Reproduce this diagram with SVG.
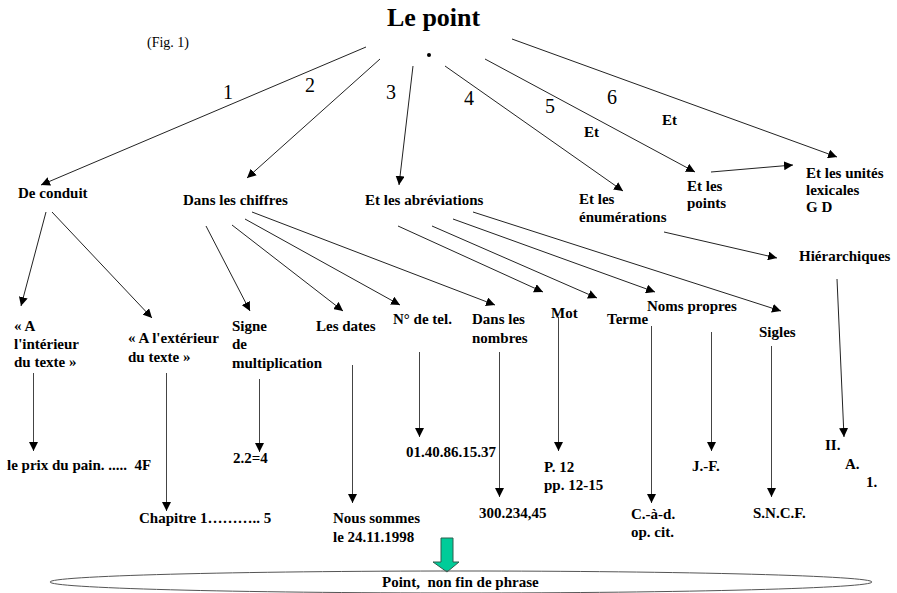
<svg xmlns="http://www.w3.org/2000/svg" width="897" height="593" viewBox="0 0 897 593">
  <style>
    text { font-family: "Liberation Serif", Tinos, "DejaVu Serif", "Noto Serif", serif; fill: #000; }
    .title { font-size: 26px; font-weight: bold; }
    .fig { font-size: 14px; }
    .num { font-size: 20px; }
    .lbl { font-size: 15px; font-weight: bold; }
    .edge { stroke: #222; stroke-width: 1; fill: none; marker-end: url(#tip); }
    .vert { stroke: #444; }
  </style>
  <defs>
    <marker id="tip" viewBox="0 0 10 10" refX="10" refY="5" markerWidth="9" markerHeight="9" markerUnits="userSpaceOnUse" orient="auto">
      <path d="M0,0 L10,5 L0,10 z" fill="#000"/>
    </marker>
  </defs>

  <!-- heading -->
  <text class="title" x="387" y="26">Le point</text>
  <text class="fig" x="147" y="47">(Fig. 1)</text>
  <circle cx="429" cy="55" r="2" fill="#000"/>

  <!-- connectors -->
  <g id="connectors">
    <!-- first level -->
    <line class="edge" x1="366" y1="47" x2="41" y2="185"/>
    <line class="edge" x1="380" y1="59" x2="247" y2="178"/>
    <line class="edge" x1="413" y1="66" x2="399" y2="185"/>
    <line class="edge" x1="445" y1="66" x2="623" y2="191"/>
    <line class="edge" x1="485" y1="59" x2="695" y2="172"/>
    <line class="edge" x1="512" y1="39" x2="837" y2="157"/>
    <line class="edge" x1="711" y1="172" x2="793" y2="165"/>
    <!-- De conduit -->
    <line class="edge" x1="46" y1="212" x2="21" y2="306"/>
    <line class="edge" x1="52" y1="212" x2="152" y2="318"/>
    <!-- Dans les chiffres -->
    <line class="edge" x1="206" y1="226" x2="250" y2="311"/>
    <line class="edge" x1="232" y1="225" x2="343" y2="311"/>
    <line class="edge" x1="245" y1="219" x2="400" y2="305"/>
    <line class="edge" x1="252" y1="212" x2="495" y2="305"/>
    <!-- Et les abréviations -->
    <line class="edge" x1="398" y1="226" x2="543" y2="292"/>
    <line class="edge" x1="432" y1="226" x2="597" y2="298"/>
    <line class="edge" x1="453" y1="219" x2="655" y2="292"/>
    <line class="edge" x1="473" y1="212" x2="781" y2="311"/>
    <!-- Et les énumérations -->
    <line class="edge" x1="664" y1="232" x2="777" y2="258"/>
    <!-- examples -->
    <line class="edge vert" x1="33.5" y1="373" x2="33.5" y2="451"/>
    <line class="edge vert" x1="166.5" y1="373" x2="166.5" y2="511"/>
    <line class="edge vert" x1="259.5" y1="379" x2="259.5" y2="452"/>
    <line class="edge vert" x1="352.5" y1="365" x2="352.5" y2="503"/>
    <line class="edge vert" x1="419.5" y1="352" x2="419.5" y2="437"/>
    <line class="edge vert" x1="499.5" y1="352" x2="499.5" y2="497"/>
    <line class="edge vert" x1="558.5" y1="317" x2="558.5" y2="451"/>
    <line class="edge vert" x1="651.5" y1="326" x2="651.5" y2="503"/>
    <line class="edge vert" x1="711.5" y1="332" x2="711.5" y2="451"/>
    <line class="edge vert" x1="771.5" y1="346" x2="771.5" y2="497"/>
    <line class="edge" x1="837" y1="279" x2="844" y2="437"/>
  </g>

  <!-- branch numbers -->
  <g id="numbers">
    <text class="num" x="223" y="99">1</text>
    <text class="num" x="305" y="92">2</text>
    <text class="num" x="386" y="99">3</text>
    <text class="num" x="464" y="105">4</text>
    <text class="num" x="545" y="113">5</text>
    <text class="num" x="607" y="104">6</text>
    <text class="lbl" x="584" y="137">Et</text>
    <text class="lbl" x="662" y="125">Et</text>
  </g>

  <!-- first level nodes -->
  <g id="n-conduit"><text class="lbl" x="18" y="198">De conduit</text></g>
  <g id="n-chiffres"><text class="lbl" x="183" y="205">Dans les chiffres</text></g>
  <g id="n-abreviations"><text class="lbl" x="365" y="205">Et les abréviations</text></g>
  <g id="n-enumerations">
    <text class="lbl" x="579" y="204">Et les</text>
    <text class="lbl" x="579" y="222">énumérations</text>
  </g>
  <g id="n-points">
    <text class="lbl" x="687" y="191">Et les</text>
    <text class="lbl" x="687" y="208">points</text>
  </g>
  <g id="n-unites">
    <text class="lbl" x="806" y="178">Et les unités</text>
    <text class="lbl" x="806" y="195">lexicales</text>
    <text class="lbl" x="806" y="212">G D</text>
  </g>

  <!-- second level nodes -->
  <g id="n-interieur">
    <text class="lbl" x="14" y="331">« A</text>
    <text class="lbl" x="14" y="349">l'intérieur</text>
    <text class="lbl" x="14" y="367">du texte »</text>
  </g>
  <g id="n-exterieur">
    <text class="lbl" x="128" y="343">« A l'extérieur</text>
    <text class="lbl" x="128" y="362">du texte »</text>
  </g>
  <g id="n-signe">
    <text class="lbl" x="232" y="331">Signe</text>
    <text class="lbl" x="232" y="349">de</text>
    <text class="lbl" x="232" y="368">multiplication</text>
  </g>
  <g id="n-dates"><text class="lbl" x="316" y="331">Les dates</text></g>
  <g id="n-tel"><text class="lbl" x="393" y="324">N° de tel.</text></g>
  <g id="n-nombres">
    <text class="lbl" x="472" y="324">Dans les</text>
    <text class="lbl" x="472" y="343">nombres</text>
  </g>
  <g id="n-mot"><text class="lbl" x="551" y="318">Mot</text></g>
  <g id="n-terme"><text class="lbl" x="607" y="324">Terme</text></g>
  <g id="n-noms"><text class="lbl" x="647" y="311">Noms propres</text></g>
  <g id="n-sigles"><text class="lbl" x="759" y="337">Sigles</text></g>
  <g id="n-hierarchiques"><text class="lbl" x="799" y="261">Hiérarchiques</text></g>

  <!-- examples -->
  <g id="ex-pain"><text class="lbl" x="7" y="470" xml:space="preserve">le prix du pain. .....  4F</text></g>
  <g id="ex-chapitre"><text class="lbl" x="139" y="523">Chapitre 1……….. 5</text></g>
  <g id="ex-mult"><text class="lbl" x="233" y="463">2.2=4</text></g>
  <g id="ex-date">
    <text class="lbl" x="333" y="523">Nous sommes</text>
    <text class="lbl" x="333" y="542">le 24.11.1998</text>
  </g>
  <g id="ex-tel"><text class="lbl" x="406" y="457">01.40.86.15.37</text></g>
  <g id="ex-nombre"><text class="lbl" x="479" y="518">300.234,45</text></g>
  <g id="ex-mot">
    <text class="lbl" x="544" y="472">P. 12</text>
    <text class="lbl" x="544" y="490">pp. 12-15</text>
  </g>
  <g id="ex-terme">
    <text class="lbl" x="631" y="519">C.-à-d.</text>
    <text class="lbl" x="631" y="537">op. cit.</text>
  </g>
  <g id="ex-noms"><text class="lbl" x="692" y="471">J.-F.</text></g>
  <g id="ex-sigles"><text class="lbl" x="753" y="518">S.N.C.F.</text></g>
  <g id="ex-hier">
    <text class="lbl" x="825" y="450">II.</text>
    <text class="lbl" x="845" y="469">A.</text>
    <text class="lbl" x="866" y="487">1.</text>
  </g>

  <!-- summary -->
  <g id="summary">
    <path d="M441,538 H453 V562 H459 L447,572 L433,562 H441 Z" fill="#00CC99" stroke="#2f5f4f" stroke-width="1"/>
    <ellipse cx="461" cy="582" rx="411" ry="11" fill="none" stroke="#555" stroke-width="1"/>
    <text class="lbl" x="382" y="587" xml:space="preserve">Point,  non fin de phrase</text>
  </g>
</svg>
